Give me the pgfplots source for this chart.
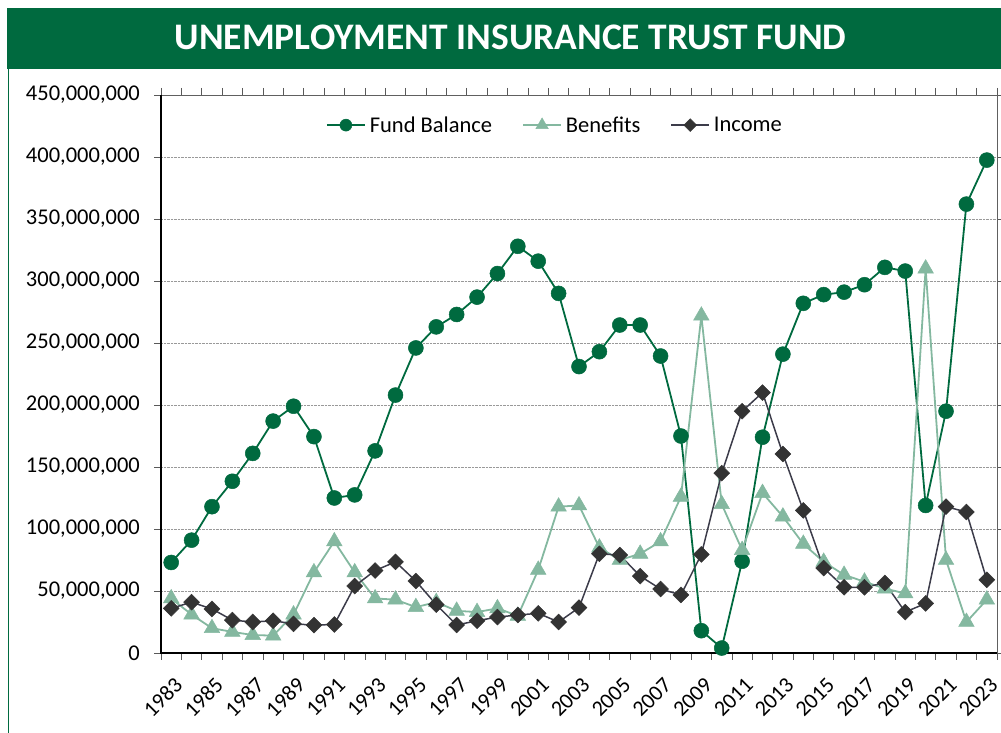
\documentclass[border=0pt]{standalone}
\usepackage{pgfplots}
\pgfplotsset{compat=1.18}
\usepackage{fontspec}
\setmainfont{Carlito}
\definecolor{fundgreen}{RGB}{0,106,63}
\definecolor{benefit}{RGB}{132,184,160}
\definecolor{incomeline}{RGB}{60,60,74}
\definecolor{incomemark}{RGB}{51,51,51}
\begin{document}
\begin{tikzpicture}[x=1pt,y=1pt]
\useasboundingbox (0,0) rectangle (1001,733);
\fill[fundgreen] (7,664) rectangle (1001,725);
\draw[fundgreen, line width=1.4pt] (8.3,0) -- (8.3,664);
\node[anchor=base, text=white, inner sep=0pt] at (510.5,683) {\fontsize{37.5}{45}\selectfont\bfseries UNEMPLOYMENT INSURANCE TRUST FUND};
\begin{axis}[
  at={(161pt,80pt)}, anchor=south west,
  scale only axis, width=836pt, height=558pt,
  xmin=1982.5, xmax=2023.5, ymin=0, ymax=450,
  clip=false,
  axis line style={draw=gray!75!black, line width=0.8pt},
  xtick={1982.5,1983.5,...,2023.5}, xticklabels={},
  extra x ticks={1983,1985,...,2023},
  extra x tick labels={1983,1985,1987,1989,1991,1993,1995,1997,1999,2001,2003,2005,2007,2009,2011,2013,2015,2017,2019,2021,2023},
  extra x tick style={major tick length=0pt, grid=none},
  xtick style={draw=gray!70!black, line width=0.8pt},
  x tick label style={xshift=2pt, yshift=-23pt, rotate=45, anchor=north east, inner sep=0pt, font=\fontsize{22}{26}\selectfont},
  ytick={0,50,...,450},
  yticklabels={0,{50,000,000},{100,000,000},{150,000,000},{200,000,000},{250,000,000},{300,000,000},{350,000,000},{400,000,000},{450,000,000}},
  y tick label style={anchor=east, inner sep=0pt, xshift=-14pt, font=\fontsize{22.5}{27}\selectfont},
  ytick style={draw=gray!70!black, line width=0.8pt},
  tick align=outside, major tick length=7pt,
  ymajorgrids, major grid style={densely dotted, gray!80, line width=0.8pt},
  legend columns=3,
  legend style={at={(0.470,0.946)}, anchor=center, draw=none, fill=none,
    font=\fontsize{22.5}{27}\selectfont, nodes={inner sep=0pt},
    /tikz/every odd column/.append style={column sep=4pt},
    /tikz/every even column/.append style={column sep=30pt}},
  legend image code/.code={\draw[mark repeat=2,mark phase=2,/tikz/every mark/.append style={scale=0.8}] plot coordinates {(0pt,0pt) (19pt,0pt) (38pt,0pt)};},
]
\addplot[fundgreen, line width=1.8pt, mark=*, mark size=7.5pt, mark options={fill=fundgreen, draw=fundgreen, line width=0.5pt}] coordinates {
(1983,73) (1984,91) (1985,118) (1986,138.5) (1987,161) (1988,187) (1989,199) (1990,174.5) (1991,125) (1992,127.5)
(1993,163) (1994,208) (1995,246) (1996,263) (1997,273) (1998,287) (1999,306) (2000,328) (2001,316) (2002,290)
(2003,231) (2004,243) (2005,264.5) (2006,264.5) (2007,239.5) (2008,175) (2009,18) (2010,4) (2011,74) (2012,174)
(2013,241) (2014,282) (2015,289) (2016,291) (2017,297) (2018,311) (2019,308) (2020,119) (2021,195) (2022,362) (2023,397.5)};
\addlegendentry{Fund Balance}
\addplot[benefit, line width=1.8pt, mark=triangle*, mark size=9pt, mark options={fill=benefit, draw=benefit, line width=0.5pt}] coordinates {
(1983,44) (1984,31) (1985,20) (1986,17) (1987,14.5) (1988,14) (1989,31) (1990,65) (1991,90) (1992,65)
(1993,44) (1994,43) (1995,37) (1996,41) (1997,34) (1998,33) (1999,36) (2000,30) (2001,67) (2002,118)
(2003,119) (2004,85) (2005,75) (2006,80) (2007,90) (2008,126) (2009,272) (2010,120) (2011,83) (2012,129)
(2013,110) (2014,88) (2015,73.5) (2016,63) (2017,57.5) (2018,52) (2019,48) (2020,310) (2021,75) (2022,25) (2023,43)};
\addlegendentry{Benefits}
\addplot[incomeline, line width=1.5pt, mark=square*, mark size=5.6pt, mark options={rotate=45, fill=incomemark, draw=incomemark, line width=0.5pt}] coordinates {
(1983,36) (1984,41) (1985,35.5) (1986,26.5) (1987,25) (1988,26) (1989,23.5) (1990,22.5) (1991,23) (1992,54)
(1993,66.5) (1994,73.5) (1995,58) (1996,39) (1997,22.6) (1998,26) (1999,29) (2000,30.6) (2001,32) (2002,25)
(2003,36.6) (2004,80) (2005,79) (2006,62) (2007,51.6) (2008,46.8) (2009,79.5) (2010,145) (2011,195) (2012,210)
(2013,160.5) (2014,115) (2015,68.5) (2016,53) (2017,53) (2018,56.5) (2019,33) (2020,40) (2021,118) (2022,113.7) (2023,59)};
\addlegendentry{Income}
\draw[black, line width=1.6pt] (rel axis cs:0,1) -- (rel axis cs:0,0) -- (rel axis cs:1,0);
\end{axis}
\end{tikzpicture}
\end{document}
